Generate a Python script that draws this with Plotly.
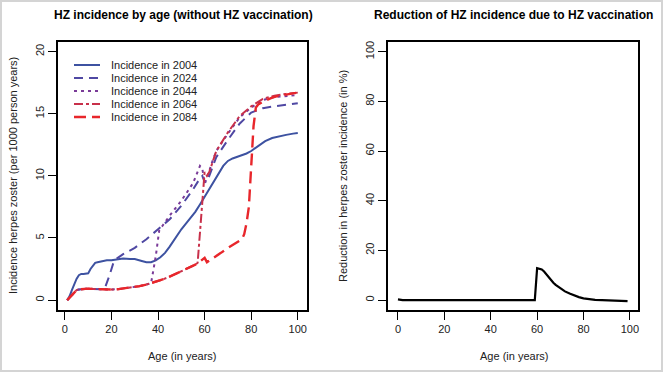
import plotly.graph_objects as go

# ---------------- data ----------------
age_2004 = [1, 2, 3, 4, 5, 6, 7, 8, 9, 10, 11, 12, 13, 14, 16, 18, 20, 22, 25, 28, 30, 33, 35, 37, 39,
            41, 43, 45, 47, 50, 53, 56, 58, 60, 62, 65, 68, 70, 72, 75, 78, 80, 83, 86, 89, 92, 95, 98, 100]
inc_2004 = [0, 0.3, 0.8, 1.3, 1.7, 2.0, 2.1, 2.1, 2.1, 2.15, 2.5, 2.8, 3.0, 3.05, 3.15, 3.2, 3.2, 3.25,
            3.35, 3.3, 3.3, 3.15, 3.05, 3.05, 3.2, 3.45, 3.8, 4.3, 4.9, 5.7, 6.4, 7.1, 7.7, 8.3, 8.9, 9.9,
            10.8, 11.2, 11.4, 11.6, 11.8, 12.0, 12.4, 12.8, 13.05, 13.2, 13.3, 13.4, 13.45]

age_2024 = [1, 2, 3, 4, 5, 6, 8, 10, 12, 15, 17, 19, 21, 22, 25, 30, 35, 40, 45, 50, 55, 58, 59, 60, 61,
            63, 65, 70, 75, 80, 85, 90, 95, 100]
inc_2024 = [0, 0.2, 0.45, 0.65, 0.8, 0.85, 0.9, 0.92, 0.9, 0.88, 0.87, 1.9, 3.1, 3.3, 3.7, 4.2, 4.9, 5.7,
            6.5, 7.6, 8.9, 9.8, 10.0, 9.5, 9.5, 10.5, 11.5, 12.9, 14.2, 15.1, 15.45, 15.6, 15.75, 15.85]

age_2044 = [1, 2, 3, 4, 5, 6, 8, 10, 12, 15, 18, 20, 23, 26, 29, 32, 35, 37, 39, 40.5, 42, 45, 50, 55,
            58, 59, 60, 61, 63, 65, 70, 75, 80, 85, 90, 95, 100]
inc_2044 = [0, 0.2, 0.45, 0.65, 0.8, 0.85, 0.9, 0.92, 0.9, 0.88, 0.85, 0.85, 0.88, 0.95, 1.02, 1.12, 1.25,
            1.35, 3.5, 5.6, 6.0, 6.8, 8.0, 9.4, 10.8, 10.6, 9.4, 9.8, 11.0, 12.0, 13.4, 14.7, 15.5, 16.1,
            16.35, 16.45, 16.5]

age_2064 = [1, 2, 3, 4, 5, 6, 8, 10, 12, 15, 18, 20, 23, 26, 29, 32, 35, 38, 41, 44, 47, 50, 53, 56, 57,
            58, 59, 60, 61, 62, 65, 70, 75, 80, 85, 90, 95, 100]
inc_2064 = [0, 0.2, 0.45, 0.65, 0.8, 0.85, 0.9, 0.92, 0.9, 0.88, 0.85, 0.85, 0.88, 0.95, 1.02, 1.12, 1.25,
            1.4, 1.6, 1.8, 2.05, 2.3, 2.55, 2.85, 3.0, 5.5, 8.5, 10.3, 10.0, 10.3, 12.0, 13.5, 14.8, 15.6,
            16.2, 16.45, 16.6, 16.7]

age_2084 = [1, 2, 3, 4, 5, 6, 8, 10, 12, 15, 18, 20, 23, 26, 29, 32, 35, 38, 41, 44, 47, 50, 53, 56, 58,
            60, 61, 64, 67, 70, 73, 76, 77, 78, 79, 80, 81, 82, 83, 86, 89, 92, 95, 98, 100]
inc_2084 = [0, 0.2, 0.45, 0.65, 0.8, 0.85, 0.9, 0.92, 0.9, 0.88, 0.85, 0.85, 0.88, 0.95, 1.02, 1.12, 1.25,
            1.4, 1.6, 1.8, 2.05, 2.3, 2.55, 2.85, 3.1, 3.4, 3.05, 3.4, 3.8, 4.2, 4.55, 4.9, 5.3, 6.2, 7.5,
            10.5, 14.0, 15.5, 15.75, 16.05, 16.3, 16.45, 16.55, 16.65, 16.7]

age_red = [0, 1, 2, 5, 10, 20, 30, 40, 50, 55, 59, 60, 61, 62, 63, 64, 65, 66, 67, 68, 70, 72, 74, 76,
           78, 80, 82, 85, 88, 91, 94, 97, 99]
reduction = [0.3, 0.1, 0.0, 0.0, 0.0, 0.0, 0.0, 0.0, 0.0, 0.0, 0.0, 12.8, 12.6, 12.3, 11.5, 10.3, 9.1,
             8.0, 7.0, 6.1, 4.7, 3.5, 2.6, 1.8, 1.2, 0.7, 0.35, 0.1, 0.0, -0.1, -0.2, -0.3, -0.4]

legend_labels = ["Incidence in 2004", "Incidence in 2024", "Incidence in 2044",
                 "Incidence in 2064", "Incidence in 2084"]
x_ticks = [0, 20, 40, 60, 80, 100]
y_ticks_left = [0, 5, 10, 15, 20]
y_ticks_right = [0, 20, 40, 60, 80, 100]

# ---------------- figure ----------------
W, H = 663, 372
FONT = "Liberation Sans, Arial, Helvetica, sans-serif"

series_data = [(age_2004, inc_2004), (age_2024, inc_2024), (age_2044, inc_2044),
               (age_2064, inc_2064), (age_2084, inc_2084)]
styles = [("#3d52a1", "solid", 2), ("#4f48a3", "9px,6px", 2), ("#7a3b98", "3px,4px", 2),
          ("#c8304a", "9px,3px,3px,3px", 2), ("#e8262b", "12px,6px", 2.4)]

fig = go.Figure()
for name, (xs, ys), (col, dash, w) in zip(legend_labels, series_data, styles):
    fig.add_trace(go.Scatter(x=xs, y=ys, mode="lines", name=name, showlegend=False,
                             line=dict(color=col, dash=dash, width=w),
                             xaxis="x", yaxis="y"))

fig.add_trace(go.Scatter(x=age_red, y=reduction, mode="lines", showlegend=False,
                         line=dict(color="black", width=2.2), xaxis="x2", yaxis="y2"))


def px_x(p):
    return p / W


def px_y(p):
    return 1 - p / H


axis_common = dict(showgrid=False, zeroline=False, showline=True, linecolor="black", linewidth=2,
                   mirror=True, ticks="outside", ticklen=8, tickwidth=1.3, tickcolor="black",
                   tickfont=dict(family=FONT, size=11, color="#222"), automargin=False)

ydom = [px_y(310), px_y(41.7)]
fig.update_layout(
    width=W, height=H,
    margin=dict(l=0, r=0, t=0, b=0),
    paper_bgcolor="white", plot_bgcolor="white",
    showlegend=False,
    xaxis=dict(domain=[px_x(58), px_x(307)], range=[-2.96, 103.96], tickvals=x_ticks, anchor="y",
               **axis_common),
    yaxis=dict(domain=ydom, range=[-0.8, 20.8], tickvals=y_ticks_left, tickangle=-90, anchor="x",
               **axis_common),
    xaxis2=dict(domain=[px_x(388), px_x(638)], range=[-4.3, 103.5], tickvals=x_ticks, anchor="y2",
                **axis_common),
    yaxis2=dict(domain=ydom, range=[-4, 104], tickvals=y_ticks_right, tickangle=-90, anchor="x2",
                **axis_common),
)

ann_font = dict(family=FONT, size=11, color="#222")
title_font = dict(family=FONT, size=12, color="black")
annotations = [
    dict(text="<b>HZ incidence by age (without HZ vaccination)</b>", x=px_x(183), y=px_y(15),
         font=title_font),
    dict(text="<b>Reduction of HZ incidence due to HZ vaccination</b>", x=px_x(513), y=px_y(15),
         font=title_font),
    dict(text="Age (in years)", x=px_x(182), y=px_y(356), font=ann_font),
    dict(text="Age (in years)", x=px_x(514), y=px_y(356), font=ann_font),
    dict(text="Incidence herpes zoster (per 1000 person years)", x=px_x(13), y=px_y(176),
         textangle=-90, font=ann_font),
    dict(text="Reduction in herpes zoster incidence (in %)", x=px_x(343), y=px_y(176),
         textangle=-90, font=ann_font),
]
for a in annotations:
    fig.add_annotation(xref="paper", yref="paper", showarrow=False, xanchor="center", yanchor="middle", **a)

# legend drawn as key samples plus labels (R-style compact legend)
for i, (label, (col, dash, w)) in enumerate(zip(legend_labels, styles)):
    yy = px_y(65 + 13 * i)
    fig.add_shape(type="line", xref="paper", yref="paper", x0=px_x(74), x1=px_x(100), y0=yy, y1=yy,
                  line=dict(color=col, dash=dash, width=w))
    fig.add_annotation(xref="paper", yref="paper", x=px_x(109), y=yy, text=label, showarrow=False,
                       xanchor="left", yanchor="middle", font=ann_font)

# light grey outer frame of the picture
fig.add_shape(type="rect", xref="paper", yref="paper", x0=0, y0=0, x1=1, y1=1,
              line=dict(color="#d4d4d4", width=4), fillcolor="rgba(0,0,0,0)", layer="below")

fig.write_html("out.html", config={"displayModeBar": False},
               post_script="document.body.style.margin='0px';")
